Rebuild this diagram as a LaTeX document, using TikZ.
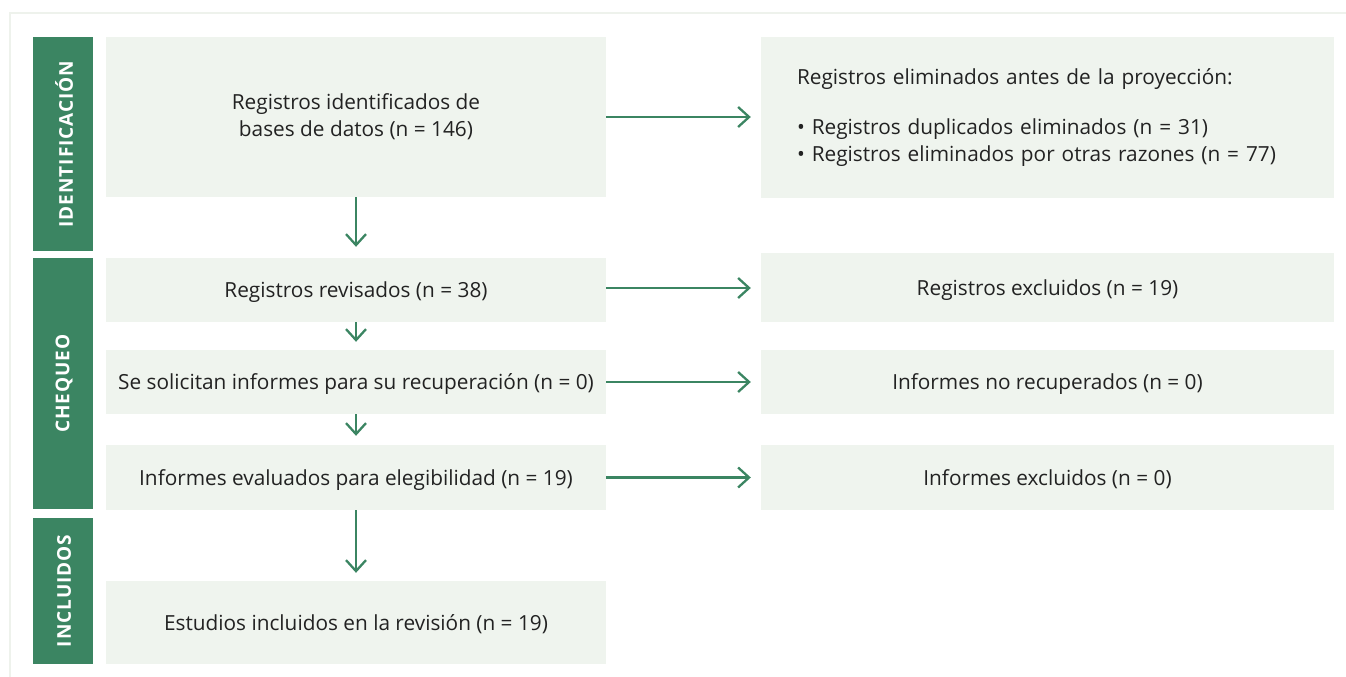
\documentclass[tikz,border=0pt]{standalone}
\usepackage{fontspec}
\setmainfont{Open Sans}
\usetikzlibrary{arrows.meta}
\definecolor{pgreen}{HTML}{3B8562}
\definecolor{pbox}{HTML}{EFF4EE}
\definecolor{pframe}{HTML}{EEF2EC}
\definecolor{ptext}{HTML}{222222}
\tikzset{
  stagebar/.style={fill=pgreen, draw=none, minimum width=60pt, inner sep=0pt},
  stagelabel/.style={text=white, rotate=90, font=\fontsize{19}{22}\selectfont\bfseries\addfontfeature{LetterSpace=5}, inner sep=0pt},
  leftbox/.style={fill=pbox, draw=none, minimum width=500pt, inner sep=0pt, align=center, text=ptext, font=\fontsize{20.8}{27}\selectfont},
  rightbox/.style={fill=pbox, draw=none, minimum width=573pt, inner sep=0pt, align=center, text=ptext, font=\fontsize{20.8}{27}\selectfont},
  oneline/.style={text depth=0pt},
  flow/.style={draw=pgreen, line width=2.3pt, -{Straight Barb[length=11pt,width=20pt,line width=2.3pt]}},
}
\begin{document}
\begin{tikzpicture}[x=1pt,y=-1pt]
\useasboundingbox (0,0) rectangle (1346,677);
% frame
\draw[pframe, line width=2.5pt] (10,677) -- (10,13) -- (1346,13);
% stage bars
\node[stagebar, minimum height=214pt] (bid) at (63,144) {};
\node[stagebar, minimum height=251pt] (bch) at (63,383.5) {};
\node[stagebar, minimum height=146pt] (bin) at (63,591) {};
\node[stagelabel] (lid) at (64,144) {IDENTIFICACIÓN};
\node[stagelabel] (lch) at (64,383.5) {CHEQUEO};
\node[stagelabel] (lin) at (64,591) {INCLUIDOS};
% left boxes
\node[leftbox, minimum height=160pt] (l1) at (356,117) {Registros identificados de\\bases de datos (n = 146)};
\node[leftbox, oneline, minimum height=64pt] (l2) at (356,290) {Registros revisados (n = 38)};
\node[leftbox, oneline, minimum height=64pt] (l3) at (356,382) {Se solicitan informes para su recuperación (n = 0)};
\node[leftbox, oneline, minimum height=65pt] (l4) at (356,477.5) {Informes evaluados para elegibilidad (n = 19)};
\node[leftbox, oneline, minimum height=83pt] (l5) at (356,622.5) {Estudios incluidos en la revisión (n = 19)};
% right boxes
\node[rightbox, minimum height=161pt, text width=501pt, inner xsep=36pt, align=left] (r1) at (1047.5,117.5) {Registros eliminados antes de la proyección:\\[23pt]• Registros duplicados eliminados (n = 31)\\• Registros eliminados por otras razones (n = 77)};
\node[rightbox, oneline, minimum height=69pt] (r2) at (1047.5,287.5) {Registros excluidos (n = 19)};
\node[rightbox, oneline, minimum height=64pt] (r3) at (1047.5,382) {Informes no recuperados (n = 0)};
\node[rightbox, oneline, minimum height=65pt] (r4) at (1047.5,477.5) {Informes excluidos (n = 0)};
% horizontal arrows
\draw[flow, shorten >=10pt] (l1.east |- 0,117) -- (r1.west |- 0,117);
\draw[flow, shorten >=10pt] (l2.east |- 0,288) -- (r2.west |- 0,288);
\draw[flow, shorten >=10pt] (l3.east) -- (r3.west);
\draw[flow, shorten >=10pt] (l4.east) -- (r4.west);
% vertical arrows
\draw[flow, shorten >=11pt] (l1.south) -- (l2.north);
\draw[flow, shorten >=8pt] (l2.south) -- (l3.north);
\draw[flow, shorten >=9pt] (l3.south) -- (l4.north);
\draw[flow, shorten >=8pt] (l4.south) -- (l5.north);
\end{tikzpicture}
\end{document}
